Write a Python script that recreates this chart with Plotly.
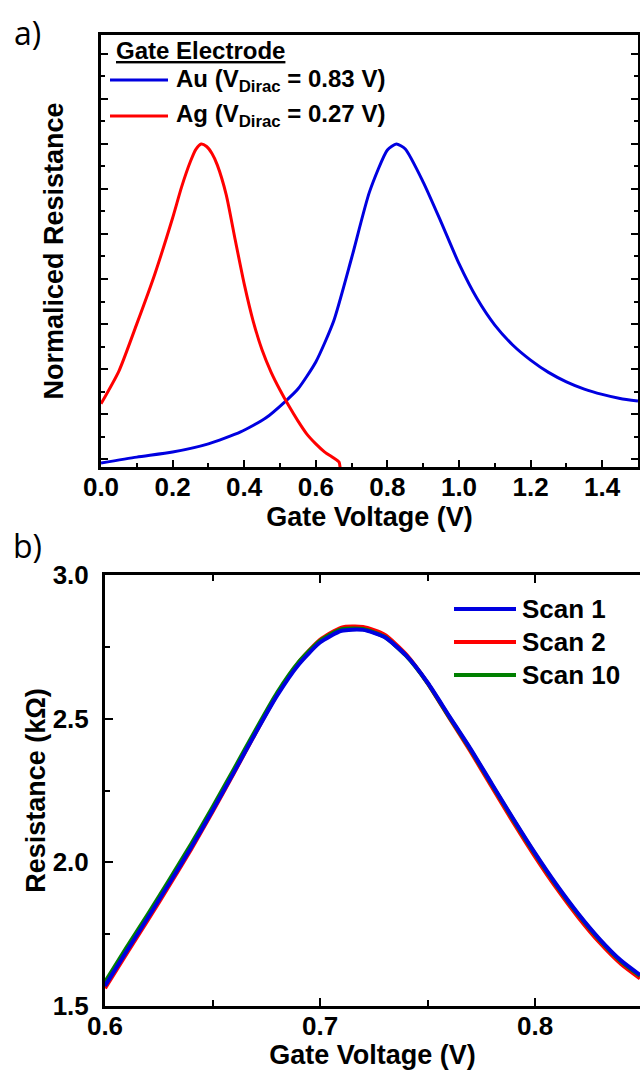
import plotly.graph_objects as go

# ---------------- data ----------------
# Panel a) normalised resistance vs gate voltage
au_x = [0.00, 0.10, 0.20, 0.30, 0.39, 0.46, 0.516, 0.55, 0.60, 0.65, 0.70, 0.75,
        0.80, 0.825, 0.85, 0.90, 0.95, 1.00, 1.05, 1.10, 1.15, 1.20, 1.25, 1.30,
        1.35, 1.40, 1.45, 1.50]
au_y = [-0.013, 0.006, 0.022, 0.048, 0.086, 0.130, 0.184, 0.222, 0.308, 0.438, 0.638, 0.848,
        0.981, 1.000, 0.984, 0.879, 0.752, 0.620, 0.510, 0.425, 0.362, 0.314, 0.275, 0.245,
        0.222, 0.205, 0.192, 0.184]

ag_x = [0.000, 0.050, 0.100, 0.150, 0.200, 0.225, 0.250, 0.265, 0.280, 0.295, 0.310,
        0.325, 0.350, 0.375, 0.400, 0.425, 0.450, 0.475, 0.500, 0.525, 0.550, 0.575,
        0.600, 0.625, 0.650, 0.665, 0.668]
ag_y = [0.175, 0.279, 0.429, 0.586, 0.765, 0.863, 0.945, 0.983, 1.000, 0.992, 0.970,
        0.933, 0.838, 0.695, 0.556, 0.438, 0.346, 0.276, 0.219, 0.168, 0.121, 0.079,
        0.048, 0.022, 0.003, -0.010, -0.029]

# Panel b) resistance (kOhm) vs gate voltage for repeated scans
scan_x = [0.600, 0.610, 0.620, 0.630, 0.640, 0.650, 0.660, 0.670, 0.680, 0.690, 0.700,
          0.710, 0.720, 0.730, 0.740, 0.750, 0.760, 0.770, 0.780, 0.790, 0.800,
          0.810, 0.820, 0.830, 0.840, 0.8488]
scan1_y = [1.570, 1.690, 1.808, 1.928, 2.051, 2.180, 2.314, 2.450, 2.580, 2.688, 2.765,
           2.806, 2.809, 2.784, 2.720, 2.626, 2.510, 2.395, 2.272, 2.150, 2.032,
           1.922, 1.822, 1.733, 1.658, 1.608]
scan2_y = [1.562, 1.682, 1.800, 1.921, 2.045, 2.176, 2.312, 2.450, 2.584, 2.695, 2.774,
           2.817, 2.819, 2.792, 2.724, 2.624, 2.504, 2.386, 2.261, 2.138, 2.020,
           1.910, 1.810, 1.721, 1.646, 1.596]
scan10_y = [1.583, 1.703, 1.820, 1.940, 2.063, 2.192, 2.325, 2.460, 2.590, 2.696, 2.771,
            2.811, 2.812, 2.785, 2.719, 2.624, 2.507, 2.392, 2.269, 2.147, 2.029,
            1.919, 1.819, 1.730, 1.655, 1.605]

legend_a = ["Au (V<sub>Dirac</sub> = 0.83 V)", "Ag (V<sub>Dirac</sub> = 0.27 V)"]
legend_b = ["Scan 1", "Scan 2", "Scan 10"]

# ---------------- styling ----------------
W, H = 640, 1070
BLUE, RED, GREEN = "#0000e0", "#ff0000", "#008000"
FONT = "Liberation Sans, Arial, sans-serif"


def fx(p):
    return p / W


def fy(p):
    return 1 - p / H


fig = go.Figure()

line_kw = dict(shape="spline", smoothing=0.6)
fig.add_trace(go.Scatter(x=au_x, y=au_y, mode="lines", name=legend_a[0],
                         line=dict(color=BLUE, width=3, **line_kw),
                         xaxis="x", yaxis="y", showlegend=False))
fig.add_trace(go.Scatter(x=ag_x, y=ag_y, mode="lines", name=legend_a[1],
                         line=dict(color=RED, width=3, **line_kw),
                         xaxis="x", yaxis="y", showlegend=False))

fig.add_trace(go.Scatter(x=scan_x, y=scan2_y, mode="lines", name=legend_b[1],
                         line=dict(color=RED, width=4, **line_kw),
                         xaxis="x2", yaxis="y2", showlegend=False))
fig.add_trace(go.Scatter(x=scan_x, y=scan10_y, mode="lines", name=legend_b[2],
                         line=dict(color=GREEN, width=4, **line_kw),
                         xaxis="x2", yaxis="y2", showlegend=False))
fig.add_trace(go.Scatter(x=scan_x, y=scan1_y, mode="lines", name=legend_b[0],
                         line=dict(color=BLUE, width=4, **line_kw),
                         xaxis="x2", yaxis="y2", showlegend=False))

tickfont = dict(family=FONT, size=26, color="black", weight="bold")
titlefont = dict(family=FONT, size=27, color="black", weight="bold")
common = dict(showgrid=False, zeroline=False, showline=True, linecolor="black",
              linewidth=3, ticks="inside", tickcolor="black", tickwidth=2,
              tickfont=tickfont, automargin=False)

fig.update_layout(
    width=W, height=H,
    margin=dict(l=0, r=0, t=0, b=0),
    paper_bgcolor="white", plot_bgcolor="white",
    xaxis=dict(domain=[fx(101), fx(638)], range=[0, 1.5], anchor="y",
               tickmode="linear", tick0=0, dtick=0.2, tickformat=".1f", ticklen=7,
               minor=dict(dtick=0.1, ticks="inside", ticklen=4, tickwidth=2, tickcolor="black"),
               mirror=True, ticklabelstandoff=-5,
               title=dict(text="Gate Voltage (V)", font=titlefont, standoff=0), **common),
    yaxis=dict(domain=[fy(467), fy(35)], range=[-0.0254, 1.346], anchor="x",
               tickmode="linear", tick0=0, dtick=1 / 7, showticklabels=False, ticklen=7,
               minor=dict(dtick=1 / 14, ticks="inside", ticklen=4, tickwidth=2, tickcolor="black"),
               mirror="ticks",
               title=dict(text="Normaliced Resistance", font=titlefont, standoff=27), **common),
    xaxis2=dict(domain=[fx(105), 1.0], range=[0.6, 0.8488], anchor="y2",
                tickmode="linear", tick0=0.6, dtick=0.1, tickformat=".1f", ticklen=8,
                minor=dict(dtick=0.05, ticks="inside", ticklen=6, tickwidth=2, tickcolor="black"),
                mirror="ticks", ticklabelstandoff=-5,
                title=dict(text="Gate Voltage (V)", font=titlefont, standoff=3), **common),
    yaxis2=dict(domain=[fy(1006), fy(575)], range=[1.5, 3.0], anchor="x2",
                tickmode="linear", tick0=1.5, dtick=0.5, tickformat=".1f", ticklen=8,
                minor=dict(dtick=0.25, ticks="inside", ticklen=5, tickwidth=2, tickcolor="black"),
                ticklabelstandoff=8,
                title=dict(text="Resistance (kΩ)", font=titlefont, standoff=0), **common),
    yaxis3=dict(overlaying="y2", anchor="x2", side="right", range=[1.5, 3.0],
                tickmode="linear", tick0=1.5, dtick=0.5, ticklen=8, showticklabels=False,
                minor=dict(dtick=0.25, ticks="inside", ticklen=5, tickwidth=2, tickcolor="black"),
                showgrid=False, zeroline=False, showline=False, ticks="inside",
                tickcolor="black", tickwidth=2),
)

# panel labels
label_font = dict(family="Open Sans, Liberation Sans, sans-serif", size=32, color="black")
fig.add_annotation(text="a)", x=fx(27), y=fy(32), xref="paper", yref="paper",
                   showarrow=False, font=label_font, xanchor="center", yanchor="middle")
fig.add_annotation(text="b)", x=fx(27), y=fy(545), xref="paper", yref="paper",
                   showarrow=False, font=label_font, xanchor="center", yanchor="middle")

# legend a)
legfont_a = dict(family=FONT, size=24, color="black", weight="bold")
fig.add_annotation(text="<u>Gate Electrode</u>", x=fx(114), y=fy(50), xref="paper", yref="paper",
                   showarrow=False, font=legfont_a, xanchor="left", yanchor="middle")
for txt, col, yy in zip(legend_a, [BLUE, RED], [80, 116]):
    fig.add_shape(type="line", x0=fx(110), x1=fx(168), y0=fy(yy), y1=fy(yy),
                  xref="paper", yref="paper", line=dict(color=col, width=3))
    fig.add_annotation(text=txt, x=fx(174), y=fy(yy), xref="paper", yref="paper",
                       showarrow=False, font=legfont_a, xanchor="left", yanchor="middle")

# legend b)
legfont_b = dict(family=FONT, size=26, color="black", weight="bold")
for txt, col, yy in zip(legend_b, [BLUE, RED, GREEN], [609, 642, 675]):
    fig.add_shape(type="line", x0=fx(454), x1=fx(516), y0=fy(yy), y1=fy(yy),
                  xref="paper", yref="paper", line=dict(color=col, width=4))
    fig.add_annotation(text=txt, x=fx(520), y=fy(yy), xref="paper", yref="paper",
                       showarrow=False, font=legfont_b, xanchor="left", yanchor="middle")

# remove the default page margin so the 640x1070 figure fills the window exactly
fig.write_html("out.html", config={"displayModeBar": False},
               post_script="document.body.style.margin='0px';")
